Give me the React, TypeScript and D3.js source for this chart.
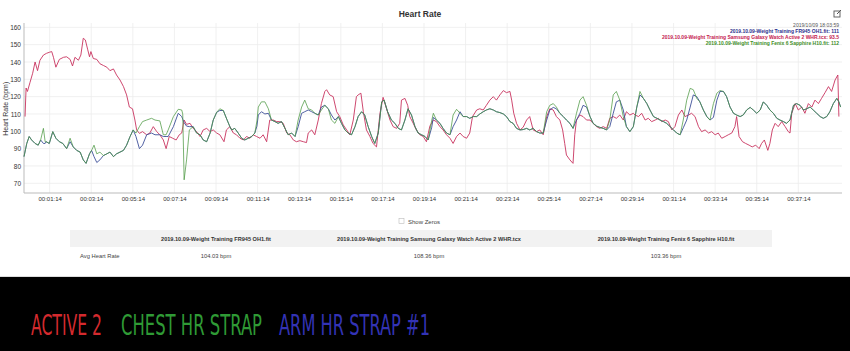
import React, { useEffect, useRef } from 'react';
import * as d3 from 'd3';

// [seconds since start, bpm]
const redSeries: [number, number][] = [
  [3, 108.5], [6, 125], [10, 123], [17, 128], [25, 133.5], [32, 140], [39, 135], [46, 141], [56, 144], [65, 145],
  [73, 145.6], [80, 146], [85, 142.7], [92, 137], [102, 141.5], [114, 142.7], [123, 143], [133, 141.5], [140, 137.7],
  [147, 142.7], [157, 141], [164, 144], [171, 153.7], [177, 152.7], [184, 147], [189, 143], [193, 146], [200, 142],
  [210, 141.5], [219, 139], [229, 138], [239, 137], [248, 135], [258, 136], [267, 132.5], [277, 129.6], [287, 125.8],
  [296, 121], [304, 114], [313, 113], [320, 106.5], [325, 100.8], [333, 98.8], [342, 99.8], [354, 98], [363, 99],
  [373, 102.7], [383, 99.8], [392, 98], [402, 95], [410, 90], [419, 97], [429, 96], [439, 95], [448, 98], [455, 99],
  [462, 106.5], [469, 104], [479, 104.6], [488, 101.7], [498, 99.8], [508, 97], [517, 100.8], [527, 101.7], [537, 99.8],
  [546, 100.8], [556, 99], [565, 98], [577, 94], [584, 100.8], [594, 102.7], [604, 99], [613, 98], [623, 96], [633, 95],
  [642, 97], [652, 96], [661, 98], [671, 97], [681, 96], [690, 98], [700, 94], [709, 106.5], [719, 106.5], [729, 105.6],
  [738, 105.6], [748, 104.6], [758, 99], [767, 98], [777, 95], [786, 94], [796, 94.6], [806, 94], [815, 93.5], [820, 99],
  [830, 100.8], [839, 98], [849, 106.5], [858, 116], [868, 123], [873, 124], [882, 121], [892, 120], [902, 111.3],
  [911, 108.5], [921, 103.7], [931, 100.8], [940, 98], [950, 106.5], [959, 120], [964, 121], [972, 122], [979, 111.3],
  [988, 100.8], [998, 97], [1007, 93], [1017, 91], [1027, 110.4], [1036, 119.6], [1046, 113], [1056, 106.5], [1065, 102.7],
  [1075, 101.7], [1084, 104.6], [1089, 118], [1099, 119], [1107, 115], [1113, 108.5], [1123, 104.6], [1132, 100.8],
  [1142, 98], [1152, 97], [1161, 94], [1171, 103], [1181, 106.5], [1190, 105.6], [1200, 102.7], [1209, 100.8], [1219, 98],
  [1229, 96], [1238, 93], [1248, 97], [1258, 99], [1267, 97], [1277, 96], [1286, 99], [1294, 108.5], [1306, 112.3],
  [1315, 113], [1325, 112.3], [1334, 115], [1344, 118], [1354, 120], [1363, 118], [1373, 121], [1383, 123.5], [1392, 122.3],
  [1402, 123], [1407, 118], [1413, 110.4], [1421, 104.6], [1431, 100.8], [1440, 102.3], [1450, 106.5], [1459, 108.5],
  [1469, 100.8], [1479, 99.8], [1488, 100.8], [1498, 98], [1508, 108.5], [1517, 113], [1527, 112.3], [1536, 108.5],
  [1546, 106.5], [1554, 100.8], [1560, 93], [1565, 86.3], [1575, 83.5], [1584, 81.5], [1589, 98], [1594, 106.5],
  [1604, 109.4], [1613, 108.5], [1623, 106.5], [1633, 106.5], [1642, 104.6], [1652, 102.7], [1661, 101.7], [1671, 102.7],
  [1681, 101.7], [1690, 107.5], [1700, 108.5], [1709, 107.5], [1719, 109.4], [1729, 106.5], [1738, 111.3], [1748, 109.4],
  [1758, 110.4], [1763, 109.4], [1773, 108.5], [1782, 110.4], [1792, 106.5], [1801, 107.5], [1811, 105.6], [1821, 106.5],
  [1830, 107.5], [1840, 105.6], [1850, 106.5], [1859, 105.6], [1869, 100.8], [1878, 102.7], [1888, 109.4], [1898, 112.3],
  [1907, 108.5], [1917, 109.4], [1926, 110.4], [1936, 108.5], [1946, 102.7], [1955, 99.8], [1965, 100.8], [1975, 99],
  [1984, 99.8], [1994, 98], [2003, 99], [2013, 96], [2023, 97], [2032, 98], [2042, 99], [2051, 102.7], [2056, 108.5],
  [2063, 97], [2073, 94], [2082, 93], [2092, 92], [2101, 91], [2111, 92], [2121, 90], [2128, 93], [2136, 95], [2146, 89],
  [2152, 93], [2159, 100.8], [2167, 104.6], [2176, 102.7], [2186, 105.6], [2196, 102.7], [2205, 99.8], [2210, 99],
  [2215, 110.4], [2225, 116], [2234, 112.3], [2244, 114], [2253, 110.4], [2263, 116], [2273, 114], [2282, 118], [2292, 116],
  [2301, 119], [2311, 122.3], [2321, 125.8], [2330, 123], [2340, 129.6], [2348, 132.5], [2351, 108.5],
];

const blueSeries: [number, number][] = [
  [0, 85.4], [8, 93], [15, 97], [22, 95], [32, 93], [41, 92], [48, 95], [56, 93], [61, 93], [64, 94], [73, 93], [83, 99.8],
  [92, 96], [102, 94], [112, 93], [123, 90], [133, 94], [142, 91], [152, 89], [162, 88], [171, 83.5], [179, 81.5], [189, 87],
  [195, 89], [202, 85.4], [210, 82], [219, 83.5], [229, 86], [239, 87], [248, 88], [258, 85.4], [267, 87], [277, 88],
  [287, 89], [296, 92], [306, 97], [315, 100.8], [323, 97], [333, 90], [342, 92], [354, 98], [368, 99], [378, 98], [392, 98],
  [402, 97], [410, 97], [416, 97], [431, 102.7], [445, 110.4], [455, 108.5], [458, 107], [462, 105], [469, 103], [477, 102.7],
  [488, 102.7], [498, 99], [508, 98], [517, 95], [527, 94], [537, 99], [546, 106.5], [556, 111], [565, 112], [575, 112],
  [585, 107], [594, 102.7], [599, 100.8], [608, 101.7], [618, 99], [628, 96], [637, 95], [647, 96], [657, 97], [666, 99],
  [672, 103], [676, 109.4], [685, 111.3], [695, 110], [705, 110.4], [714, 106.5], [724, 105.6], [733, 104.6], [743, 105.6],
  [753, 101.7], [762, 98], [772, 99], [782, 97], [791, 102.7], [801, 110.4], [810, 111.3], [820, 112.3], [830, 111.3],
  [839, 110.4], [849, 109.4], [858, 114], [868, 115], [878, 113], [887, 109.4], [897, 106.5], [907, 108.5], [916, 104.6],
  [926, 100.8], [935, 99], [945, 98], [955, 102.7], [964, 108.5], [974, 111.3], [983, 109.4], [993, 102.7], [1003, 97],
  [1012, 93], [1022, 99], [1032, 117], [1039, 118], [1049, 111.3], [1060, 106.5], [1070, 104.6], [1080, 101.7], [1089, 100.8],
  [1099, 106.5], [1108, 113], [1118, 109.4], [1128, 102.7], [1137, 99], [1147, 98], [1157, 97], [1166, 95], [1176, 102],
  [1181, 108], [1190, 106.5], [1200, 104.6], [1209, 101.7], [1219, 99], [1229, 98], [1238, 102.7], [1248, 106.5],
  [1258, 111.3], [1267, 108.5], [1277, 108.5], [1286, 107.5], [1296, 108.5], [1306, 108.5], [1315, 110], [1325, 111.3],
  [1334, 112.3], [1344, 113], [1354, 112.3], [1363, 111.3], [1373, 110.8], [1383, 110], [1392, 108.5], [1402, 105.6],
  [1411, 104.6], [1421, 101.7], [1431, 100.8], [1440, 101], [1450, 101.7], [1459, 100.8], [1469, 101.7], [1479, 99.8],
  [1488, 99], [1498, 99], [1508, 106.5], [1517, 112.3], [1527, 113.8], [1536, 113], [1546, 110.4], [1556, 108.5],
  [1565, 106.5], [1575, 104.6], [1584, 101.7], [1594, 106.5], [1604, 110.4], [1613, 115], [1623, 114], [1633, 108.5],
  [1642, 104.6], [1652, 103], [1661, 102.3], [1671, 101.7], [1681, 100.8], [1690, 102.7], [1700, 110.4], [1709, 117],
  [1719, 118], [1729, 112.3], [1738, 102.7], [1748, 99.8], [1758, 102.7], [1768, 114], [1777, 121], [1787, 119], [1797, 116],
  [1806, 112.3], [1816, 108.5], [1826, 107.5], [1835, 106.5], [1845, 105.6], [1854, 104.6], [1864, 102.7], [1874, 100.8],
  [1883, 99], [1893, 98], [1902, 102], [1912, 106.5], [1922, 114], [1931, 121], [1941, 120], [1950, 117], [1960, 112.3],
  [1970, 108.5], [1979, 106.5], [1989, 108], [1999, 118], [2008, 123], [2018, 123], [2027, 120], [2037, 114], [2047, 110.4],
  [2056, 109.4], [2066, 108.5], [2075, 109.4], [2085, 112.3], [2095, 113.8], [2104, 112.3], [2114, 110.4], [2124, 112.3],
  [2133, 117], [2143, 115], [2152, 112.3], [2162, 110.4], [2172, 107.5], [2181, 106.5], [2191, 105.6], [2200, 104.6],
  [2210, 106.5], [2220, 115], [2229, 116], [2239, 115], [2249, 112.3], [2258, 113], [2268, 114], [2277, 112.3], [2287, 110.4],
  [2297, 108.5], [2306, 107.5], [2316, 108.5], [2325, 111.3], [2335, 116], [2345, 119], [2351, 117], [2356, 114],
];

const greenSeries: [number, number][] = [
  [0, 85.4], [8, 93], [15, 97], [22, 95], [32, 93], [41, 92], [48, 95], [56, 101.7], [61, 94], [64, 94], [73, 93], [83, 99.8],
  [92, 96], [102, 94], [112, 93], [123, 90], [133, 96], [142, 91], [152, 89], [162, 88], [171, 83.5], [179, 81.5], [189, 87],
  [195, 89], [202, 92], [210, 87], [219, 88], [229, 86], [239, 87], [248, 88], [258, 85.4], [267, 87], [277, 88], [287, 89],
  [296, 92], [306, 97], [315, 100.8], [323, 99], [333, 102.7], [342, 105.6], [354, 106.5], [368, 107.5], [378, 106.5],
  [392, 106], [402, 98], [410, 98], [416, 100.8], [431, 108.5], [445, 112.7], [455, 112.3], [458, 110], [462, 72],
  [469, 83.5], [477, 100.8], [488, 102.7], [498, 99], [508, 98], [517, 95], [527, 94], [537, 99], [546, 106.5], [556, 111],
  [565, 113], [575, 112], [585, 107], [594, 102.7], [599, 100.8], [608, 101.7], [618, 99], [628, 96], [637, 95], [647, 96],
  [657, 97], [666, 99], [672, 106], [676, 114], [685, 117], [695, 117], [705, 113], [714, 106.5], [724, 105.6], [733, 104.6],
  [743, 105.6], [753, 101.7], [762, 98], [772, 99], [782, 97], [791, 106.5], [801, 114], [810, 118], [820, 113], [830, 112.3],
  [839, 110.4], [849, 109.4], [858, 112.3], [868, 115], [878, 113], [887, 106.5], [897, 104.6], [907, 108.5], [916, 104.6],
  [926, 100.8], [935, 99], [945, 98], [955, 102.7], [964, 108.5], [974, 111.3], [983, 109.4], [993, 102.7], [1003, 97],
  [1012, 93], [1022, 99], [1032, 117], [1039, 118], [1049, 111.3], [1060, 106.5], [1070, 104.6], [1080, 101.7], [1089, 100.8],
  [1099, 106.5], [1108, 113], [1118, 109.4], [1128, 102.7], [1137, 99], [1147, 98], [1157, 97], [1166, 95], [1176, 106],
  [1181, 110.4], [1190, 106.5], [1200, 104.6], [1209, 101.7], [1219, 99], [1229, 98], [1238, 109.4], [1248, 112.7],
  [1258, 110.4], [1267, 108.5], [1277, 108.5], [1286, 107.5], [1296, 108.5], [1306, 108.5], [1315, 110], [1325, 111.3],
  [1334, 112.3], [1344, 113], [1354, 112.3], [1363, 111.3], [1373, 110.8], [1383, 110], [1392, 108.5], [1402, 105.6],
  [1411, 104.6], [1421, 101.7], [1431, 100.8], [1440, 101], [1450, 101.7], [1459, 100.8], [1469, 101.7], [1479, 99.8],
  [1488, 99], [1498, 99], [1508, 111.3], [1517, 115], [1527, 116], [1536, 114], [1546, 110.4], [1556, 108.5], [1565, 106.5],
  [1575, 104.6], [1584, 101.7], [1594, 110.4], [1604, 118], [1613, 120], [1623, 115], [1633, 108.5], [1642, 104.6],
  [1652, 103], [1661, 102.3], [1671, 101.7], [1681, 100.8], [1690, 106.5], [1700, 121], [1709, 123], [1719, 118],
  [1729, 108.5], [1738, 102.7], [1748, 99.8], [1758, 102.7], [1768, 114], [1777, 123], [1787, 119], [1797, 116], [1806, 112.3],
  [1816, 108.5], [1826, 107.5], [1835, 106.5], [1845, 105.6], [1854, 104.6], [1864, 102.7], [1874, 100.8], [1883, 99],
  [1893, 98], [1902, 106.5], [1912, 118], [1922, 124.8], [1931, 124], [1941, 119], [1950, 117], [1960, 112.3], [1970, 108.5],
  [1979, 106.5], [1989, 116], [1999, 122], [2008, 123.5], [2018, 123], [2027, 120], [2037, 114], [2047, 110.4], [2056, 109.4],
  [2066, 108.5], [2075, 109.4], [2085, 112.3], [2095, 113.8], [2104, 112.3], [2114, 110.4], [2124, 112.3], [2133, 117],
  [2143, 115], [2152, 112.3], [2162, 110.4], [2172, 107.5], [2181, 106.5], [2191, 105.6], [2200, 104.6], [2210, 106.5],
  [2220, 115], [2229, 116], [2239, 115], [2249, 112.3], [2258, 113], [2268, 114], [2277, 112.3], [2287, 110.4], [2297, 108.5],
  [2306, 107.5], [2316, 108.5], [2325, 111.3], [2335, 116], [2345, 119], [2351, 117], [2356, 114],
];

const yTicks = [70, 80, 90, 100, 110, 120, 130, 140, 150, 160];
const xTicks = [74, 194, 314, 434, 554, 674, 794, 914, 1034, 1154, 1274, 1394, 1514, 1634, 1754, 1874, 1994, 2114, 2234];

const fileNames = [
  '2019.10.09-Weight Training FR945 OH1.fit',
  '2019.10.09-Weight Training Samsung Galaxy Watch Active 2 WHR.tcx',
  '2019.10.09-Weight Training Fenix 6 Sapphire H10.fit',
];
const avgHeartRates = ['104.03 bpm', '108.36 bpm', '103.36 bpm'];
const hoverValues = ['111', '93.5', '112'];
const bottomLabels = ['ACTIVE 2', 'CHEST HR STRAP', 'ARM HR STRAP #1'];

const FONT = "'Liberation Sans', Arial, sans-serif";

const fmt = (s: number) => {
  const m = Math.floor(s / 60);
  const sec = s % 60;
  return `00:${String(m).padStart(2, '0')}:${String(sec).padStart(2, '0')}`;
};

const App = () => {
  const svgRef = useRef<SVGSVGElement>(null);

  useEffect(() => {
    const svg = d3.select(svgRef.current);
    svg.selectAll('*').remove();

    const x = d3.scaleLinear().domain([0, 2360]).range([24, 842]);
    const y = d3.scaleLinear().domain([64.4, 162.5]).range([193, 23]);

    svg.append('rect').attr('width', 850).attr('height', 351).attr('fill', '#fff');

    // grid
    const grid = svg.append('g');
    grid.selectAll('.hg').data(yTicks).enter().append('line')
      .attr('x1', 24).attr('x2', 842)
      .attr('y1', (d) => y(d)).attr('y2', (d) => y(d))
      .attr('stroke', '#ececec').attr('stroke-width', 0.8);
    grid.selectAll('.vg').data(xTicks).enter().append('line')
      .attr('x1', (d) => x(d)).attr('x2', (d) => x(d))
      .attr('y1', 23).attr('y2', 193)
      .attr('stroke', '#ececec').attr('stroke-width', 0.8);

    // axes
    const yAxis = svg.append('g')
      .attr('transform', 'translate(24,0)')
      .call(d3.axisLeft(y).tickValues(yTicks).tickSize(0).tickPadding(3));
    yAxis.select('.domain').remove();
    yAxis.selectAll('text').attr('font-family', FONT).attr('font-size', 6.5).attr('fill', '#333');

    const xAxis = svg.append('g')
      .attr('transform', 'translate(0,193)')
      .call(d3.axisBottom(x).tickValues(xTicks).tickFormat((d) => fmt(d as number)).tickSize(0).tickPadding(4));
    xAxis.select('.domain').remove();
    xAxis.selectAll('text').attr('font-family', FONT).attr('font-size', 6).attr('fill', '#333');

    svg.append('line').attr('x1', 24).attr('x2', 24).attr('y1', 23).attr('y2', 193)
      .attr('stroke', '#aaa').attr('stroke-width', 0.8);
    svg.append('line').attr('x1', 24).attr('x2', 842).attr('y1', 193).attr('y2', 193)
      .attr('stroke', '#bbb').attr('stroke-width', 1.2);

    svg.append('text')
      .attr('transform', `translate(8,${y(113)}) rotate(-90)`)
      .attr('text-anchor', 'middle')
      .attr('font-family', FONT).attr('font-size', 7).attr('fill', '#333')
      .text('Heart Rate (bpm)');

    // lines
    const line = d3.line<[number, number]>()
      .x((d) => x(d[0]))
      .y((d) => y(d[1]));

    const series: [[number, number][], string, number][] = [
      [redSeries, '#c8335f', 1],
      [blueSeries, '#3d4f98', 1],
      [greenSeries, '#4f9a45', 0.85],
    ];
    series.forEach(([data, color, op]) => {
      svg.append('path')
        .datum(data)
        .attr('d', line)
        .attr('fill', 'none')
        .attr('stroke', color)
        .attr('stroke-opacity', op)
        .attr('stroke-width', 0.9)
        .attr('stroke-linejoin', 'round');
    });

    // title
    svg.append('text').attr('x', 420).attr('y', 17).attr('text-anchor', 'middle')
      .attr('font-family', FONT).attr('font-size', 8.5).attr('font-weight', 'bold').attr('fill', '#333')
      .text('Heart Rate');

    // hover legend
    const lg = svg.append('g').attr('font-family', FONT).attr('font-size', 5).attr('text-anchor', 'end');
    lg.append('text').attr('x', 839).attr('y', 27).attr('fill', '#555').text('2019/10/09 18:03:59');
    const legendColors = ['#2c2f8c', '#c4204f', '#3f8f2a'];
    fileNames.forEach((f, i) => {
      lg.append('text').attr('x', 839).attr('y', 33 + i * 6)
        .attr('fill', legendColors[i]).attr('font-weight', 'bold')
        .text(`${f}: ${hoverValues[i]}`);
    });
    // export icon
    svg.append('rect').attr('x', 834).attr('y', 11).attr('width', 6).attr('height', 6)
      .attr('fill', 'none').attr('stroke', '#555').attr('stroke-width', 0.9);
    svg.append('line').attr('x1', 837).attr('y1', 14).attr('x2', 841).attr('y2', 10)
      .attr('stroke', '#555').attr('stroke-width', 1);

    // show zeros
    svg.append('rect').attr('x', 399).attr('y', 218.5).attr('width', 5).attr('height', 5)
      .attr('fill', '#fff').attr('stroke', '#bbb').attr('stroke-width', 0.6);
    svg.append('text').attr('x', 408).attr('y', 223.5).attr('font-family', FONT).attr('font-size', 6)
      .attr('fill', '#444').text('Show Zeros');

    // table
    const colX = [216, 429, 666];
    svg.append('rect').attr('x', 70).attr('y', 230).attr('width', 702).attr('height', 17).attr('fill', '#f2f2f2');
    fileNames.forEach((f, i) => {
      svg.append('text').attr('x', colX[i]).attr('y', 240.5).attr('text-anchor', 'middle')
        .attr('font-family', FONT).attr('font-size', 5.6).attr('font-weight', 'bold').attr('fill', '#333').text(f);
      svg.append('text').attr('x', colX[i]).attr('y', 257.5).attr('text-anchor', 'middle')
        .attr('font-family', FONT).attr('font-size', 5.8).attr('fill', '#444').text(avgHeartRates[i]);
    });
    svg.append('text').attr('x', 80).attr('y', 257.5)
      .attr('font-family', FONT).attr('font-size', 5.8).attr('fill', '#444').text('Avg Heart Rate');
    svg.append('line').attr('x1', 0).attr('x2', 850).attr('y1', 276.5).attr('y2', 276.5)
      .attr('stroke', '#ddd').attr('stroke-width', 1);

    // black band with labels (condensed look via vertical stretch)
    svg.append('rect').attr('x', 0).attr('y', 277).attr('width', 850).attr('height', 74).attr('fill', '#000');
    const labelX = [31, 121, 279];
    const labelW = [71, 141, 151];
    const labelC = ['#d42a2e', '#2f9a35', '#3333b5'];
    const baseSize = 13;
    const stretch = 29 / baseSize;
    bottomLabels.forEach((t, i) => {
      svg.append('text')
        .attr('transform', `translate(${labelX[i]},335) scale(1,${stretch})`)
        .attr('font-family', "'DejaVu Sans Condensed', 'Liberation Sans Narrow', 'DejaVu Sans', sans-serif")
        .attr('font-size', baseSize)
        .attr('textLength', labelW[i]).attr('lengthAdjust', 'spacingAndGlyphs')
        .attr('fill', labelC[i]).text(t);
    });
  }, []);

  return (
    <svg ref={svgRef} width={850} height={351} style={{ position: 'absolute', left: 0, top: 0 }} />
  );
};

export default App;
